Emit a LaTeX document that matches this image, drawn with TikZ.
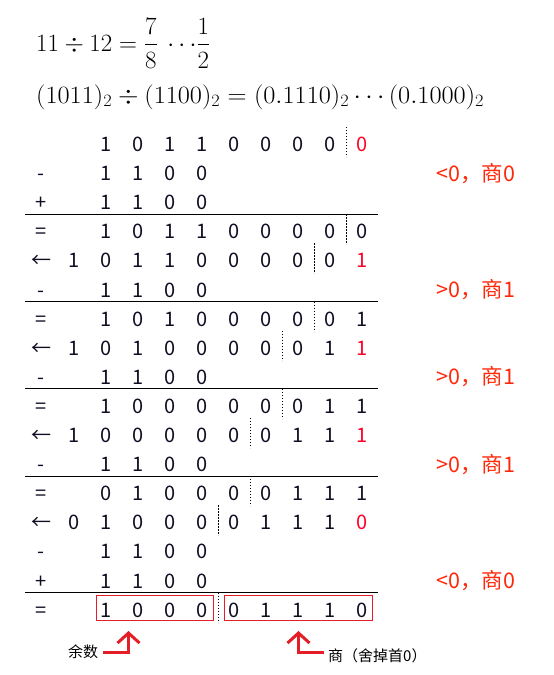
\documentclass[tikz,border=0pt]{standalone}
\usepackage{fontspec}
\usepackage{amsmath}
\usepackage{graphicx}
\newfontfamily\cjk{Noto Sans CJK SC}
\usetikzlibrary{arrows.meta,fit}
\definecolor{digred}{RGB}{255,0,40}
\definecolor{labred}{RGB}{255,40,10}
\definecolor{boxred}{RGB}{228,30,40}
\definecolor{digblack}{RGB}{15,15,35}
\newcommand\drow[3]{%
  \foreach \dd [count=\cc from #2] in {#3}{%
    \node[dig] (r#1c\cc) at ({74+32*\cc},{144+29.1*(#1-1)+7.5}) {\dd};}}
\newcommand\redd[3]{\node[dig,text=digred] (r#1c#2) at ({74+32*#2},{144+29.1*(#1-1)+7.5}) {#3};}
\newcommand\oper[2]{\node[dig] (op#1) at (41,{144+29.1*(#1-1)+7.5}) {#2};}
\newcommand\sepline[2]{\draw[sepdot] ({74+32*#2+16},{144+29.1*(#1-1)-17}) -- ({74+32*#2+16},{144+29.1*(#1-1)+13});}
\newcommand\rulebelow[1]{\draw[rulel] (25,{144+29.1*(#1-1)+12}) -- (378,{144+29.1*(#1-1)+12});}
\newcommand\lab[3]{\node[labl] (lab#1) at (436,{144+29.1*(#1-1)+8}) {#2#3};}
\begin{document}
\begin{tikzpicture}[x=1pt,y=-1pt,
  dig/.style={font=\cjk\fontsize{20}{24}\selectfont, inner sep=0pt, anchor=base, text=digblack},
  labl/.style={font=\cjk\fontsize{21.5}{24}\selectfont, inner sep=0pt, anchor=base west, text=labred},
  sepdot/.style={line width=1pt, dash pattern=on 1.2pt off 1.8pt},
  rulel/.style={line width=1.2pt},
  redbox/.style={draw=boxred, line width=1.2pt},
  bigarrow/.style={draw=boxred, line width=3pt, line join=miter, -{Straight Barb[length=10pt,width=22pt]}},
  small/.style={font=\cjk\fontsize{15}{18}\selectfont, inner sep=0pt, anchor=base west},
  formula/.style={inner sep=0pt, anchor=base west, font=\fontsize{23}{28}\selectfont}]
\useasboundingbox (0,0) rectangle (554,675);
% formulas
\node[formula] (f1) at (36,51) {$11 \div 12 = \dfrac{7}{8}\mkern4mu\cdots\mkern-3mu\dfrac{1}{2}$};
\node[formula] (f2) at (36,103) {\scalebox{1.06}[1]{$(1011)_2 \div (1100)_2 = (0.1110)_2 \cdots (0.1000)_2$}};
% row 1
\drow{1}{1}{1,0,1,1,0,0,0,0}\redd{1}{9}{0}\sepline{1}{8}
% row 2
\oper{2}{-}\drow{2}{1}{1,1,0,0}\lab{2}{<0，}{商0}
% row 3
\oper{3}{+}\drow{3}{1}{1,1,0,0}\rulebelow{3}
% row 4
\oper{4}{=}\drow{4}{1}{1,0,1,1,0,0,0,0,0}\sepline{4}{8}
% row 5
\oper{5}{←}\drow{5}{0}{1,0,1,1,0,0,0,0,0}\redd{5}{9}{1}\sepline{5}{7}
% row 6
\oper{6}{-}\drow{6}{1}{1,1,0,0}\lab{6}{>0，}{商1}\rulebelow{6}
% row 7
\oper{7}{=}\drow{7}{1}{1,0,1,0,0,0,0,0,1}\sepline{7}{7}
% row 8
\oper{8}{←}\drow{8}{0}{1,0,1,0,0,0,0,0,1}\redd{8}{9}{1}\sepline{8}{6}
% row 9
\oper{9}{-}\drow{9}{1}{1,1,0,0}\lab{9}{>0，}{商1}\rulebelow{9}
% row 10
\oper{10}{=}\drow{10}{1}{1,0,0,0,0,0,0,1,1}\sepline{10}{6}
% row 11
\oper{11}{←}\drow{11}{0}{1,0,0,0,0,0,0,1,1}\redd{11}{9}{1}\sepline{11}{5}
% row 12
\oper{12}{-}\drow{12}{1}{1,1,0,0}\lab{12}{>0，}{商1}\rulebelow{12}
% row 13
\oper{13}{=}\drow{13}{1}{0,1,0,0,0,0,1,1,1}\sepline{13}{5}
% row 14
\oper{14}{←}\drow{14}{0}{0,1,0,0,0,0,1,1,1}\redd{14}{9}{0}\sepline{14}{4}
% row 15
\oper{15}{-}\drow{15}{1}{1,1,0,0}
% row 16
\oper{16}{+}\drow{16}{1}{1,1,0,0}\lab{16}{<0，}{商0}\rulebelow{16}
% row 17
\oper{17}{=}\drow{17}{1}{1,0,0,0,0,1,1,1,0}\sepline{17}{4}
% boxes
\node[redbox, inner sep=0pt, fit={(96.5,595.5) (213.5,620.5)}] (boxL) {};
\node[redbox, inner sep=0pt, fit={(224.5,595.5) (372.5,620.5)}] (boxR) {};
% labels and arrows
\node[small] (yushu) at (68,657) {余数};
\node[small] (shang) at (328,661) {商（舍掉首0）};
\coordinate (aL) at (103,652);
\coordinate (tipL) at (128.5,631);
\coordinate (aR) at (323.5,652);
\coordinate (tipR) at (298.5,631);
\draw[bigarrow] (aL) -| (tipL);
\draw[bigarrow] (aR) -| (tipR);
\end{tikzpicture}
\end{document}
